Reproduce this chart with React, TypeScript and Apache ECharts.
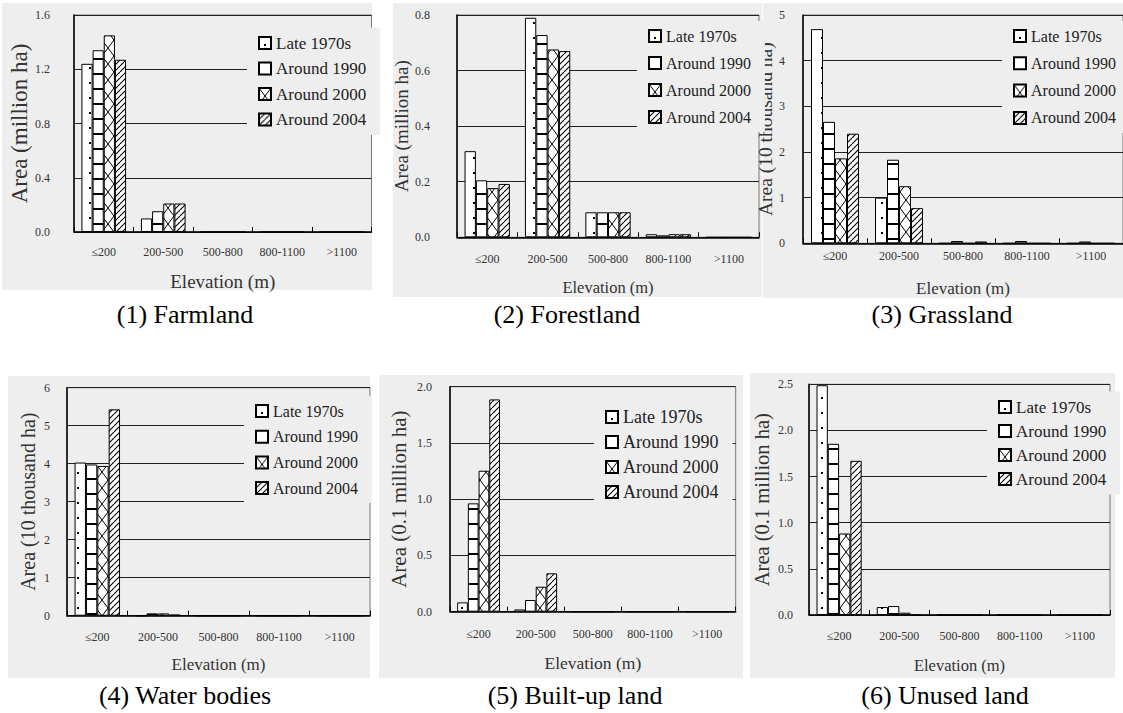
import React, { useEffect, useRef } from "react";
import * as echarts from "echarts";

// ---------- DATA ----------
const categories = ["≤200", "200-500", "500-800", "800-1100", ">1100"];
const seriesNames = ["Late 1970s", "Around 1990", "Around 2000", "Around 2004"];

const farmland1970s = [1.24, 0.1, 0, 0, 0];
const farmland1990 = [1.34, 0.153, 0, 0, 0];
const farmland2000 = [1.45, 0.21, 0, 0, 0];
const farmland2004 = [1.27, 0.21, 0, 0, 0];

const forest1970s = [0.31, 0.79, 0.09, 0.011, 0];
const forest1990 = [0.205, 0.728, 0.09, 0.007, 0];
const forest2000 = [0.177, 0.676, 0.09, 0.011, 0];
const forest2004 = [0.192, 0.67, 0.09, 0.011, 0];

const grass1970s = [4.69, 1.0, 0, 0, 0];
const grass1990 = [2.66, 1.83, 0.05, 0.05, 0.04];
const grass2000 = [1.86, 1.25, 0, 0, 0];
const grass2004 = [2.4, 0.77, 0.04, 0, 0];

const water1970s = [4.03, 0, 0, 0, 0];
const water1990 = [3.98, 0.06, 0, 0, 0];
const water2000 = [3.94, 0.06, 0, 0, 0];
const water2004 = [5.43, 0.03, 0, 0, 0];

const built1970s = [0.083, 0.02, 0, 0, 0];
const built1990 = [0.963, 0.104, 0, 0, 0];
const built2000 = [1.253, 0.222, 0, 0, 0];
const built2004 = [1.887, 0.341, 0, 0, 0];

const unused1970s = [2.49, 0.086, 0, 0, 0];
const unused1990 = [1.855, 0.097, 0, 0, 0];
const unused2000 = [0.883, 0.025, 0, 0, 0];
const unused2004 = [1.671, 0, 0, 0, 0];

const panelData = [
  [farmland1970s, farmland1990, farmland2000, farmland2004],
  [forest1970s, forest1990, forest2000, forest2004],
  [grass1970s, grass1990, grass2000, grass2004],
  [water1970s, water1990, water2000, water2004],
  [built1970s, built1990, built2000, built2004],
  [unused1970s, unused1990, unused2000, unused2004],
];

const yMax = [1.6, 0.8, 5, 6, 2.0, 2.5];
const yInterval = [0.4, 0.2, 1, 1, 0.5, 0.5];
const yDecimals = [1, 1, 0, 0, 1, 1];
const yAxisNames = [
  "Area (million ha)",
  "Area (million ha)",
  "Area (10 thousand ha)",
  "Area (10 thousand ha)",
  "Area (0.1 million ha)",
  "Area (0.1 million ha)",
];
const xAxisName = "Elevation (m)";
const captions = [
  "(1) Farmland",
  "(2) Forestland",
  "(3) Grassland",
  "(4) Water bodies",
  "(5) Built-up land",
  "(6) Unused land",
];

// ---------- LAYOUT ----------
const layout = [
  { bg: [2, 3, 370, 287], grid: [74, 15, 297.5, 217], yName: [23, 40], xName: [19, 40], xm: 14, ym: 24, lg: [258, 43, 25.5, 17], cap: [185, 314] },
  { bg: [393, 3, 369, 294], grid: [457, 15, 302, 222.3], yName: [19, 35], xName: [16.5, 42], xm: 16, ym: 27, lg: [648, 36, 27, 16], cap: [567, 314] },
  { bg: [763, 3, 360, 295], grid: [803, 15, 327, 228.3], yName: [19.5, 21], xName: [17, 37], xm: 7, ym: 18, lg: [1013, 36, 27.3, 16], cap: [942, 314] },
  { bg: [8, 376, 362, 302], grid: [67, 387.7, 303, 228], yName: [20, 29], xName: [17, 40], xm: 15, ym: 17, lg: [255, 411, 25.7, 16], cap: [185, 695] },
  { bg: [379, 375, 364, 303], grid: [450, 386.7, 285.7, 225], yName: [21, 41], xName: [17.5, 42], xm: 16, ym: 18, lg: [605, 417, 25, 18], cap: [575, 695] },
  { bg: [750, 373, 365, 305], grid: [809, 384.3, 301, 230.7], yName: [20.5, 37], xName: [16.5, 42], xm: 15, ym: 16, lg: [998, 407, 24, 17], cap: [945, 695] },
];

const BG = "#eeeeee";
const FONT = "Liberation Serif, Times New Roman, serif";

function makePattern(w: number, h: number, draw: (ctx: CanvasRenderingContext2D) => void) {
  const c = document.createElement("canvas");
  c.width = w;
  c.height = h;
  const ctx = c.getContext("2d") as CanvasRenderingContext2D;
  ctx.fillStyle = "#ffffff";
  ctx.fillRect(0, 0, w, h);
  ctx.fillStyle = "#000000";
  ctx.strokeStyle = "#000000";
  draw(ctx);
  return { image: c, repeat: "repeat", imageWidth: w, imageHeight: h } as any;
}

export default function App() {
  const ref = useRef<HTMLDivElement>(null);
  useEffect(() => {
    if (!ref.current) return;
    const chart = echarts.init(ref.current, undefined, { renderer: "svg" });

    const patterns = [
      makePattern(12, 15, (ctx) => {
        ctx.fillRect(5, 7, 2, 2);
      }),
      makePattern(10, 15, (ctx) => {
        ctx.fillRect(0, 13, 10, 2);
      }),
      makePattern(12, 16, (ctx) => {
        ctx.lineWidth = 1;
        ctx.beginPath();
        ctx.moveTo(0, 0);
        ctx.lineTo(12, 16);
        ctx.moveTo(12, 0);
        ctx.lineTo(0, 16);
        ctx.stroke();
      }),
      makePattern(6, 6, (ctx) => {
        ctx.lineWidth = 1.1;
        ctx.beginPath();
        for (let k = -1; k <= 1; k++) {
          ctx.moveTo(k * 6, 6);
          ctx.lineTo(k * 6 + 6, 0);
        }
        ctx.stroke();
      }),
    ];

    const grids: any[] = [];
    const xAxes: any[] = [];
    const yAxes: any[] = [];
    const series: any[] = [];
    const legends: any[] = [];
    const graphics: any[] = [];

    layout.forEach((L, p) => {
      grids.push({
        left: L.grid[0],
        top: L.grid[1],
        width: L.grid[2],
        height: L.grid[3],
        show: true,
        borderColor: "#777",
        borderWidth: 1,
        backgroundColor: "transparent",
      });
      xAxes.push({
        type: "category",
        gridIndex: p,
        data: categories,
        axisLine: { lineStyle: { color: "#000", width: 1.5 } },
        axisTick: { show: true, inside: true, length: 5, interval: 0, lineStyle: { color: "#000" } },
        axisLabel: { interval: 0, margin: L.xm, fontFamily: FONT, fontSize: 12, color: "#333" },
        name: xAxisName,
        nameLocation: "middle",
        nameGap: L.xName[1],
        nameTextStyle: { fontFamily: FONT, fontSize: L.xName[0], color: "#333" },
        splitLine: { show: false },
      });
      yAxes.push({
        type: "value",
        gridIndex: p,
        min: 0,
        max: yMax[p],
        interval: yInterval[p],
        axisLine: { show: true, lineStyle: { color: "#000", width: 1.5 } },
        axisTick: { show: false },
        axisLabel: {
          margin: L.ym,
          fontFamily: FONT,
          fontSize: 12,
          color: "#333",
          formatter: (v: number) => v.toFixed(yDecimals[p]),
        },
        splitLine: { show: true, lineStyle: { color: "#222", width: 1 } },
        name: yAxisNames[p],
        nameLocation: "middle",
        nameGap: L.yName[1],
        nameTextStyle: { fontFamily: FONT, fontSize: L.yName[0], color: "#333" },
      });
      panelData[p].forEach((vals, s) => {
        series.push({
          type: "bar",
          name: seriesNames[s],
          xAxisIndex: p,
          yAxisIndex: p,
          data: vals,
          barGap: "0%",
          barCategoryGap: "25%",
          silent: true,
          itemStyle: { color: patterns[s], borderColor: "#000", borderWidth: 1 },
        });
      });
      const lh = L.lg[3] + 2;
      const padTop = 6;
      legends.push({
        data: seriesNames,
        orient: "vertical",
        left: L.lg[0] - 11,
        top: L.lg[1] - lh / 2 - padTop,
        itemWidth: 12,
        itemHeight: 12,
        itemGap: L.lg[2] - lh,
        icon: "rect",
        selectedMode: false,
        backgroundColor: BG,
        padding: [padTop, 14, padTop, 11],
        textStyle: { fontFamily: FONT, fontSize: L.lg[3], color: "#222", lineHeight: lh },
      });
      graphics.push({
        type: "rect",
        z: -10,
        silent: true,
        shape: { x: L.bg[0], y: L.bg[1], width: L.bg[2], height: L.bg[3] },
        style: { fill: BG },
      });
      graphics.push({
        type: "text",
        silent: true,
        x: L.cap[0],
        y: L.cap[1],
        style: {
          text: captions[p],
          font: `26px ${FONT}`,
          fill: "#000",
          align: "center",
          verticalAlign: "middle",
        },
      });
    });

    chart.setOption({
      animation: false,
      backgroundColor: "#ffffff",
      grid: grids,
      xAxis: xAxes,
      yAxis: yAxes,
      series,
      legend: legends,
      graphic: { elements: graphics },
    });
    return () => chart.dispose();
  }, []);

  return (
    <div
      ref={ref}
      style={{ position: "absolute", left: 0, top: 0, width: 1123, height: 713, background: "#fff" }}
    />
  );
}
